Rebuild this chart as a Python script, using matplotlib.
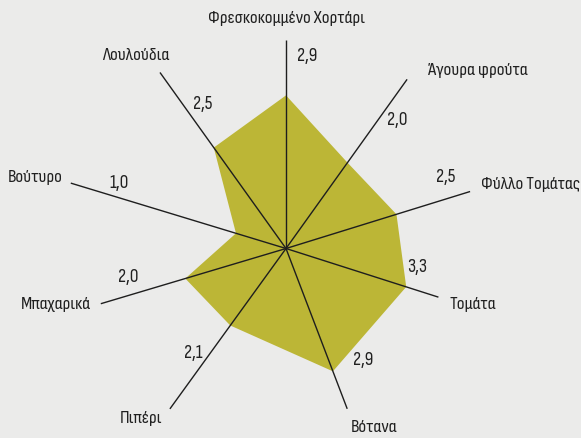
import numpy as np
import matplotlib.pyplot as plt

# data
categories = ["Φρεσκοκομμένο Χορτάρι", "Άγουρα φρούτα", "Φύλλο Τομάτας", "Τομάτα",
              "Βότανα", "Πιπέρι", "Μπαχαρικά", "Βούτυρο", "Λουλούδια"]
values = [2.9, 2.0, 2.5, 3.3, 2.9, 2.1, 2.0, 1.0, 2.5]
# how far the filled shape actually reaches on each spoke (same scale)
reach = [2.9, 2.0, 2.19, 2.39, 2.49, 1.80, 1.99, 0.99, 2.35]

# layout: spoke angles (deg, clockwise from top) and spoke lengths
spoke_deg = [0, 35.6, 72.8, 107.7, 159.1, 215.9, 253.4, 286.9, 324.4]
spoke_len = [3.95, 3.94, 3.65, 3.03, 3.25, 3.75, 3.66, 4.26, 4.10]
# text centres in pixels (from top-left)
cat_pos = [(286, 18), (478, 71), (531, 184), (473, 304), (374, 428),
           (141, 419), (56, 305), (35, 178), (136, 56)]
val_pos = [(307, 56), (397, 120), (446, 177), (417, 267), (363, 360),
           (193, 353), (128, 277), (119, 183), (203, 104)]

plt.rcParams["font.family"] = ["Sofia Sans Condensed", "DejaVu Sans"]

W, H = 581, 438
bg = "#ebebea"
fill_col = "#bcb636"
line_col = "#1e1e1e"

fig = plt.figure(figsize=(W / 100, H / 100), dpi=100, facecolor=bg)

cx, cy = 286, 248.5   # centre in pixels
px_per_unit = 52.8
R = 240
ax = fig.add_axes([(cx - R) / W, (H - cy - R) / H, 2 * R / W, 2 * R / H],
                  projection="polar")
ax.set_theta_zero_location("N")
ax.set_theta_direction(-1)
ax.set_ylim(0, R / px_per_unit)
ax.patch.set_alpha(0)
ax.grid(False)
ax.set_xticks([])
ax.set_yticks([])
ax.spines["polar"].set_visible(False)

theta = np.radians(spoke_deg)
ax.fill(theta, reach, color=fill_col, lw=0, zorder=1)
for t, L in zip(theta, spoke_len):
    ax.plot([t, t], [0, L], color=line_col, lw=1.0, zorder=2, solid_capstyle="butt")

for name, (x, y) in zip(categories, cat_pos):
    fig.text(x / W, 1 - y / H, name, ha="center", va="center",
             fontsize=13.6, color="#202020")
for v, (x, y) in zip(values, val_pos):
    fig.text(x / W, 1 - y / H, f"{v:.1f}".replace(".", ","), ha="center", va="center",
             fontsize=14, color="#202020")

fig.savefig("out.png", dpi=100, facecolor=bg)
